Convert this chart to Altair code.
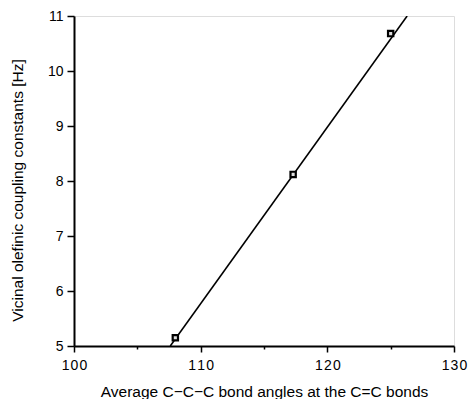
import altair as alt
import pandas as pd

# measured points
angle = [108.0, 117.3, 125.0]
coupling = [5.15, 8.12, 10.68]

# regression line end points (where it meets the frame)
line_angle = [107.6, 126.3]
line_coupling = [5.0, 11.0]

x_ticks = [100, 105, 110, 115, 120, 125, 130]
y_ticks = [5, 5.5, 6, 6.5, 7, 7.5, 8, 8.5, 9, 9.5, 10, 10.5, 11]

pts = pd.DataFrame({"angle": angle, "J": coupling})
ln = pd.DataFrame({"angle": line_angle, "J": line_coupling})

FONT = "Liberation Sans"

xscale = alt.Scale(domain=[100, 130], nice=False, zero=False)
yscale = alt.Scale(domain=[5, 11], nice=False, zero=False)

xaxis = alt.Axis(
    values=x_ticks,
    labelExpr="datum.value % 10 === 0 ? join(split(format(datum.value, 'd'), ''), '\u200a') : ''",
    labelFlush=False,
    title="Average C\u2212C\u2212C bond angles at the C=C bonds",
    titleFont=FONT, titleFontSize=15.5, titleFontWeight="normal", titleColor="black",
    titleX=190, titleY=45, titleAlign="center", titleBaseline="middle",
    labelFont=FONT, labelFontSize=14, labelColor="black", labelPadding=6,
    domainColor="black", domainWidth=2, tickColor="black", tickWidth=1.5,
    tickSize=6,
    tickDash={"condition": {"test": "datum.value % 10 !== 0", "value": [3, 20]}, "value": [1, 0]},
    grid=False,
)
yaxis = alt.Axis(
    values=y_ticks,
    labelExpr="datum.value % 1 === 0 ? format(datum.value, 'd') : ''",
    labelFlush=False,
    title="Vicinal olefinic coupling constants [Hz]",
    titleFont=FONT, titleFontSize=15.5, titleFontWeight="normal", titleColor="black",
    titleX=-57, titleY=174, titleAlign="center", titleBaseline="middle", titleAngle=270,
    labelFont=FONT, labelFontSize=14, labelColor="black", labelPadding=4,
    domainColor="black", domainWidth=2, tickColor="black", tickWidth=1.5,
    tickSize=7,
    tickDash={"condition": {"test": "datum.value % 1 !== 0", "value": [3, 20]}, "value": [1, 0]},
    grid=False,
)

line = alt.Chart(ln).mark_line(color="black", strokeWidth=1.6, clip=True).encode(
    x=alt.X("angle:Q", scale=xscale, axis=xaxis),
    y=alt.Y("J:Q", scale=yscale, axis=yaxis),
)
points = alt.Chart(pts).mark_point(
    shape="square", size=28, filled=False, color="black", strokeWidth=2.2, fill="#dddddd", fillOpacity=1
).encode(
    x=alt.X("angle:Q", scale=xscale),
    y=alt.Y("J:Q", scale=yscale),
)

chart = (line + points).properties(
    width=380, height=330,
    autosize=alt.AutoSizeParams(type="none"),
    padding={"left": 66, "top": 8, "right": 14, "bottom": 53},
).configure_view(stroke="black", strokeWidth=1.5).configure(background="white")

chart.save("out.html", embed_options={"renderer": "svg", "actions": False})
